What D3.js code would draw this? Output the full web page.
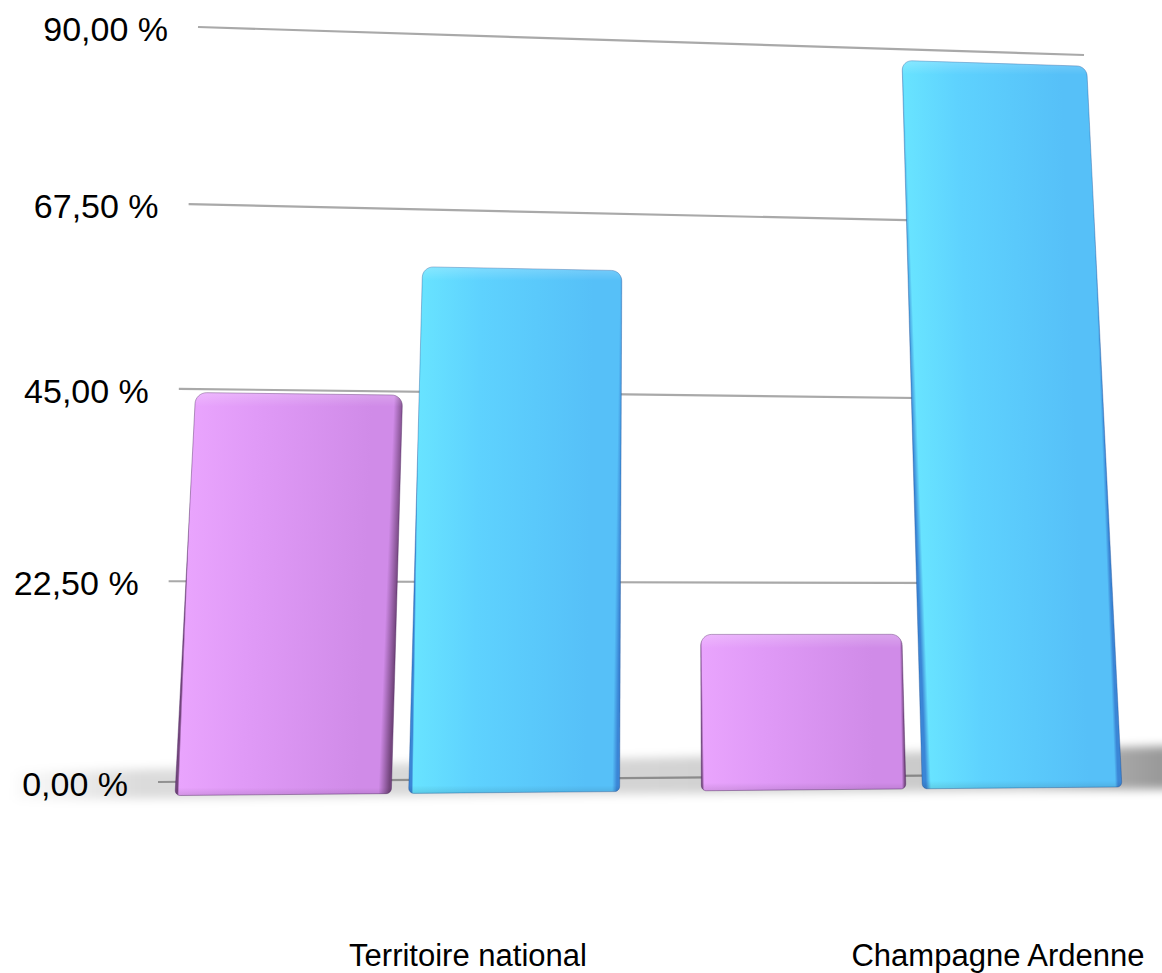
<!DOCTYPE html>
<html><head><meta charset="utf-8">
<script src="https://cdn.jsdelivr.net/npm/d3@7"></script>
<style>html,body{margin:0;padding:0;background:#fff;overflow:hidden}svg{display:block}</style>
</head><body>
<script>
// ---------- data ----------
const categories = ["Territoire national", "Champagne Ardenne"];
const seriesNames = ["Série 1", "Série 2"];
const series1Values = [42.7, 16.6];   // violet
const series2Values = [57.3, 83.4];   // bleu
const tickValues = [0, 22.5, 45, 67.5, 90];
const tickLabels = ["0,00 %", "22,50 %", "45,00 %", "67,50 %", "90,00 %"];

// ---------- setup ----------
const W = 1162, H = 973;
const svg = d3.select("body").append("svg").attr("width", W).attr("height", H);
const defs = svg.append("defs");
const FONT = "'Liberation Sans', Arial, Helvetica, sans-serif";

// perspective (homography) of the back wall: unit square -> screen quad
const quad = [[158, 782], [1119, 774], [1084, 55], [198, 27]];
function makeHomography(q) {
  const [[x0, y0], [x1, y1], [x2, y2], [x3, y3]] = q;
  const dx1 = x1 - x2, dx2 = x3 - x2, dx3 = x0 - x1 + x2 - x3;
  const dy1 = y1 - y2, dy2 = y3 - y2, dy3 = y0 - y1 + y2 - y3;
  const den = dx1 * dy2 - dx2 * dy1;
  const g = (dx3 * dy2 - dx2 * dy3) / den;
  const h = (dx1 * dy3 - dx3 * dy1) / den;
  const a = x1 - x0 + g * x1, b = x3 - x0 + h * x3, c = x0;
  const d = y1 - y0 + g * y1, e = y3 - y0 + h * y3, f = y0;
  return (u, v) => { const w = g * u + h * v + 1; return [(a * u + b * v + c) / w, (d * u + e * v + f) / w]; };
}
const proj = makeHomography(quad);

const xFlat = d3.scaleLinear().domain([0, 1000]).range([0, 1]);
const yScale = d3.scaleLinear().domain([0, 90]).range([0, 1]);
const P = (X, val) => proj(xFlat(X), yScale(val));

// bars stand in front of the wall: homothety about eye level
const eyeLevel = 19, depthScale = 1.079;
const frontVal = v => eyeLevel + (v - eyeLevel) * depthScale;

const xGroup = d3.scaleBand().domain(categories).range([17.5, 1002.5]).paddingInner(0.159).paddingOuter(0);
const xSeries = d3.scaleBand().domain(seriesNames).range([0, xGroup.bandwidth()]).paddingInner(0.075);

// ---------- gridlines ----------
const line = d3.line();
svg.append("g").selectAll("path").data(tickValues).join("path")
  .attr("d", t => line([P(0, t), P(1000, t)]))
  .attr("stroke", "#a9a9a9").attr("stroke-width", 2.2).attr("fill", "none");

// ---------- floor shadow ----------
const blur = defs.append("filter").attr("id", "blur").attr("x", "-20%").attr("y", "-100%").attr("width", "140%").attr("height", "300%");
blur.append("feGaussianBlur").attr("stdDeviation", 5);
const sg = defs.append("linearGradient").attr("id", "shadowGrad").attr("gradientUnits", "userSpaceOnUse")
  .attr("x1", 0).attr("x2", W).attr("y1", 0).attr("y2", 0);
[[0, 0], [0.12, 0.14], [0.5, 0.16], [0.88, 0.22], [1, 0.4]].forEach(([o, a]) =>
  sg.append("stop").attr("offset", o).attr("stop-color", "#000").attr("stop-opacity", a));
{
  const b0 = frontVal(0);
  const pts = [P(-140, 1.2), P(1060, 3.2), P(1060, b0 - 0.3), P(-140, b0 - 0.3)];
  svg.append("path").attr("d", line(pts) + "Z").attr("fill", "url(#shadowGrad)").attr("filter", "url(#blur)");
}

// ---------- tick labels ----------
svg.append("g").selectAll("text").data(tickValues).join("text")
  .attr("x", t => P(0, t)[0] - 30)
  .attr("y", t => P(0, t)[1] + 2)
  .attr("text-anchor", "end").attr("dominant-baseline", "central")
  .attr("font-family", FONT).attr("font-size", 34).attr("fill", "#000")
  .text((t, i) => tickLabels[i]);

// ---------- bars ----------
const palettes = [
  { side: "#74467e", hi: "#e9a4fd", main: "#e09af7", right: "#d08be8", stroke: "rgba(70,30,90,0.4)" },
  { side: "#3b86d6", hi: "#68e3ff", main: "#5ed2fe", right: "#56c0f8", stroke: "rgba(20,70,140,0.35)" }
];

function roundedPoly(X0, X1, B, T, rt, rb) {
  const kx = 0.962, kv = 760 / 90;
  const pts = [];
  const arc = (cx, cv, rX, rV, a0, a1) => {
    for (let i = 0; i <= 8; i++) {
      const a = a0 + (a1 - a0) * i / 8;
      pts.push([cx + rX * Math.cos(a), cv + rV * Math.sin(a)]);
    }
  };
  const rtX = rt / kx, rtV = rt / kv, rbX = rb / kx, rbV = rb / kv;
  arc(X0 + rtX, T - rtV, rtX, rtV, Math.PI, Math.PI / 2);
  arc(X1 - rtX, T - rtV, rtX, rtV, Math.PI / 2, 0);
  arc(X1 - rbX, B + rbV, rbX, rbV, 0, -Math.PI / 2);
  arc(X0 + rbX, B + rbV, rbX, rbV, -Math.PI / 2, -Math.PI);
  return pts;
}

const barData = [];
categories.forEach((c, ci) => {
  barData.push({ cat: c, s: seriesNames[0], v: series1Values[ci], pal: 0 });
  barData.push({ cat: c, s: seriesNames[1], v: series2Values[ci], pal: 1 });
});

const gBars = svg.append("g");
barData.forEach((d, i) => {
  const X0 = xGroup(d.cat) + xSeries(d.s), X1 = X0 + xSeries.bandwidth();
  const B = frontVal(0), T = frontVal(d.v);
  const pts = roundedPoly(X0, X1, B, T, 11, 5).map(p => P(p[0], p[1]));
  const lb = P(X0, B), lt = P(X0, T), rb = P(X1, B), rt = P(X1, T);
  const ymid = (lb[1] + lt[1]) / 2;
  const slope = ((lt[0] - lb[0]) / (lt[1] - lb[1]) + (rt[0] - rb[0]) / (rt[1] - rb[1])) / 2;
  const left = (lb[0] + lt[0]) / 2, right = (rb[0] + rt[0]) / 2;
  const wpx = right - left;
  const s = ((left + right) / 2 - 690) / 450;      // which side face is visible
  const Lw = s > 0 ? Math.max(2, 7 * s) : 1.5;
  const Rw = s < 0 ? Math.max(3, 12 * -s) : 3;
  const pal = palettes[d.pal];
  const gid = "barGrad" + i;
  const gr = defs.append("linearGradient").attr("id", gid).attr("gradientUnits", "userSpaceOnUse")
    .attr("x1", left - slope * ymid).attr("x2", right - slope * ymid).attr("y1", 0).attr("y2", 0)
    .attr("gradientTransform", `skewX(${Math.atan(slope) * 180 / Math.PI})`);
  [[0, pal.side], [Lw / wpx, pal.hi], [0.3, pal.main], [0.85, pal.right],
   [1 - Rw / wpx, pal.right], [1, pal.side]].forEach(([o, c]) =>
    gr.append("stop").attr("offset", o).attr("stop-color", c));
  const top = Math.min(lt[1], rt[1]), bottom = Math.max(lb[1], rb[1]);
  const vid = "barV" + i;
  const vg = defs.append("linearGradient").attr("id", vid).attr("gradientUnits", "userSpaceOnUse")
    .attr("x1", 0).attr("x2", 0).attr("y1", top).attr("y2", bottom);
  vg.append("stop").attr("offset", 0).attr("stop-color", "#fff").attr("stop-opacity", 0.22);
  vg.append("stop").attr("offset", Math.min(0.5, 14 / (bottom - top))).attr("stop-color", "#fff").attr("stop-opacity", 0);
  vg.append("stop").attr("offset", Math.max(0.5, 1 - 8 / (bottom - top))).attr("stop-color", "#000").attr("stop-opacity", 0);
  vg.append("stop").attr("offset", 1).attr("stop-color", "#000").attr("stop-opacity", 0.1);
  const path = line(pts) + "Z";
  gBars.append("path").attr("d", path).attr("fill", `url(#${gid})`)
    .attr("stroke", pal.stroke).attr("stroke-width", 1);
  gBars.append("path").attr("d", path).attr("fill", `url(#${vid})`);
});

// ---------- category labels ----------
const labelScale = d3.scalePoint().domain(categories).range([468, 998]);
svg.append("g").selectAll("text").data(categories).join("text")
  .attr("x", c => labelScale(c)).attr("y", 966)
  .attr("text-anchor", "middle")
  .attr("font-family", FONT).attr("font-size", 31).attr("fill", "#000")
  .text(c => c);
</script>
</body></html>
